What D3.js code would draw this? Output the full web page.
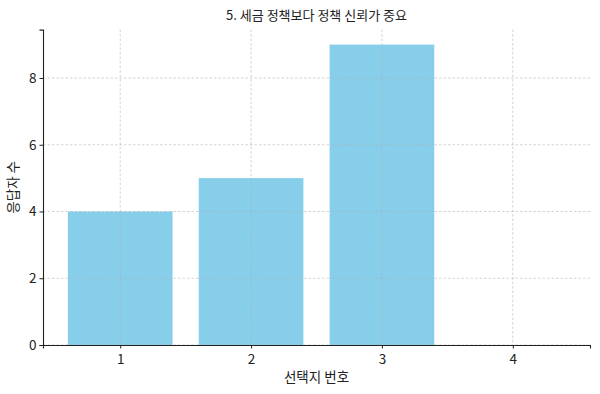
<!DOCTYPE html>
<meta charset="utf-8">
<body style="margin:0;background:#fff">
<script src="https://d3js.org/d3.v7.min.js"></script>
<script>
var title = "5. 세금 정책보다 정책 신뢰가 중요",
    xTitle = "선택지 번호",
    yTitle = "응답자 수";
var options = [1, 2, 3, 4];
var counts = [4, 5, 9, 0];
var yTicks = [0, 2, 4, 6, 8];

var width = 600, height = 394,
    font = "'Noto Sans CJK KR', 'Noto Sans', sans-serif";
var margin = {top: 29.6, right: 10, bottom: 49, left: 43};

var svg = d3.select("body").append("svg")
    .attr("width", width)
    .attr("height", height)
    .style("font-family", font);

var x = d3.scaleLinear().domain([0.41, 4.59]).range([margin.left, width - margin.right]);
var y = d3.scaleLinear().domain([0, 9.45]).range([height - margin.bottom, margin.top]);

// bars
svg.selectAll("rect.bar")
    .data(options)
    .enter().append("rect")
    .attr("class", "bar")
    .attr("x", function(d) { return x(d - 0.4); })
    .attr("width", x(1.4) - x(0.6))
    .attr("y", function(d, i) { return y(counts[i]); })
    .attr("height", function(d, i) { return y(0) - y(counts[i]); })
    .attr("fill", "#87ceeb");

// grid on top, like the original
var grid = svg.append("g").attr("stroke", "#b0b0b0").attr("stroke-opacity", 0.7)
    .attr("stroke-dasharray", "2.5,2").attr("stroke-width", 0.8);
grid.selectAll("line.gx").data(options).enter().append("line")
    .attr("x1", function(d) { return x(d); }).attr("x2", function(d) { return x(d); })
    .attr("y1", y.range()[1]).attr("y2", y(0));
grid.selectAll("line.gy").data(yTicks).enter().append("line")
    .attr("x1", margin.left).attr("x2", width - margin.right)
    .attr("y1", function(d) { return y(d); }).attr("y2", function(d) { return y(d); });

// axes
var xAxis = svg.append("g")
    .attr("transform", "translate(0," + y(0) + ")")
    .call(d3.axisBottom(x).tickValues(options).tickFormat(d3.format("d")).tickSizeOuter(0).tickSize(3.5));
var yAxis = svg.append("g")
    .attr("transform", "translate(" + margin.left + ",0)")
    .call(d3.axisLeft(y).tickValues(yTicks).tickSizeOuter(0).tickSize(3.5));

[xAxis, yAxis].forEach(function(a) {
  a.select(".domain").attr("stroke", "#222").attr("stroke-width", 1.1);
  a.selectAll(".tick line").attr("stroke", "#222");
  a.selectAll("text").attr("font-family", font).attr("font-size", 13.5).attr("fill", "#222");
});
xAxis.selectAll("text").attr("dy", "0.95em");

svg.append("text")
    .attr("x", (margin.left + width - margin.right) / 2)
    .attr("y", 20)
    .attr("text-anchor", "middle")
    .attr("font-size", 13)
    .attr("fill", "#222")
    .text(title);

svg.append("text")
    .attr("x", (margin.left + width - margin.right) / 2)
    .attr("y", 382)
    .attr("text-anchor", "middle")
    .attr("font-size", 13.5)
    .attr("fill", "#222")
    .text(xTitle);

svg.append("text")
    .attr("transform", "translate(18," + (margin.top + y(0)) / 2 + ") rotate(-90)")
    .attr("text-anchor", "middle")
    .attr("font-size", 13.5)
    .attr("fill", "#222")
    .text(yTitle);
</script>
</body>
